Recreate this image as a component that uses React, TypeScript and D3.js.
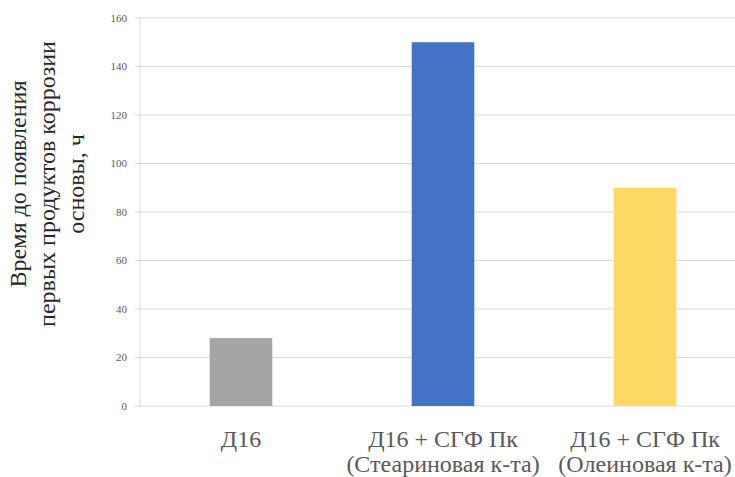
import React from "react";
import * as d3 from "d3";

const categories: string[][] = [
  ["Д16"],
  ["Д16 + СГФ Пк", "(Стеариновая к-та)"],
  ["Д16 + СГФ Пк", "(Олеиновая к-та)"],
];
const values: number[] = [28, 150, 90];
const colors: string[] = ["#a5a5a5", "#4472c4", "#ffd966"];
const yTicks: number[] = [0, 20, 40, 60, 80, 100, 120, 140, 160];
const titleLines: string[] = [
  "Время до появления",
  "первых продуктов коррозии",
  "основы, ч",
];

export default function App() {
  const W = 735;
  const H = 477;
  const left = 140;
  const right = 746;
  const top = 18;
  const bottom = 406;
  const x = d3
    .scaleBand<number>()
    .domain(d3.range(categories.length))
    .range([left, right])
    .paddingInner(0.69)
    .paddingOuter(0.345);
  const y = d3.scaleLinear().domain([0, 160]).range([bottom, top]);
  const serif = { fontFamily: "Liberation Serif, DejaVu Serif, serif" };
  return (
    <svg
      width={W}
      height={H}
      style={{ position: "absolute", left: 0, top: 0, background: "#fff" }}
    >
      {yTicks.map((t) => (
        <g key={t}>
          <line
            x1={left}
            x2={W}
            y1={y(t)}
            y2={y(t)}
            stroke="#d9d9d9"
            strokeWidth={1}
          />
          <line
            x1={left - 5}
            x2={left}
            y1={y(t)}
            y2={y(t)}
            stroke="#d9d9d9"
            strokeWidth={1}
          />
          <text
            x={left - 13}
            y={y(t)}
            dy="0.35em"
            textAnchor="end"
            style={serif}
            fontSize={11}
            fill="#595959"
          >
            {t}
          </text>
        </g>
      ))}
      <line x1={left} x2={left} y1={top} y2={bottom} stroke="#d9d9d9" />
      {values.map((v, i) => (
        <rect
          key={i}
          x={x(i)}
          y={y(v)}
          width={x.bandwidth()}
          height={bottom - y(v)}
          fill={colors[i]}
        />
      ))}
      {categories.map((lines, i) => (
        <text
          key={i}
          x={(x(i) as number) + x.bandwidth() / 2}
          y={447}
          textAnchor="middle"
          style={serif}
          fontSize={24}
          fill="#595959"
        >
          {lines.map((l, j) => (
            <tspan
              key={j}
              x={(x(i) as number) + x.bandwidth() / 2}
              dy={j === 0 ? 0 : 25}
            >
              {l}
            </tspan>
          ))}
        </text>
      ))}
      <g transform="translate(0,184) rotate(-90)">
        {titleLines.map((l, j) => (
          <text
            key={j}
            x={0}
            y={26 + j * 29}
            textAnchor="middle"
            style={serif}
            fontSize={24}
            fill="#262626"
          >
            {l}
          </text>
        ))}
      </g>
    </svg>
  );
}
